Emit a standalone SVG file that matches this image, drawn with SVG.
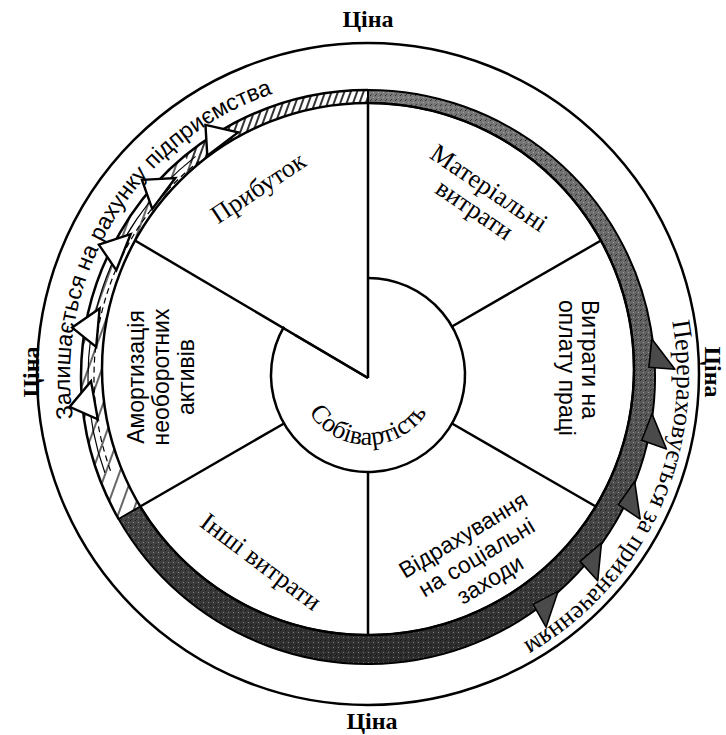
<svg xmlns="http://www.w3.org/2000/svg" width="726" height="735" viewBox="0 0 726 735">
<style>
.ln{fill:none;stroke:#000;stroke-width:2.5}
.thin{fill:none;stroke:#000;stroke-width:1.2}
.ser{font-family:"Liberation Serif","Times New Roman",serif;font-size:26px;fill:#000}
.san{font-family:"Liberation Sans",Arial,sans-serif;font-size:23px;fill:#000}
.price{font-family:"Liberation Serif","Times New Roman",serif;font-size:24px;font-weight:bold;fill:#000;text-anchor:middle}
.mid{text-anchor:middle}
.tooth{fill:#4a4a4a;stroke:#000;stroke-width:1.6;stroke-linejoin:round}
.tri{fill:#fff;stroke:#000;stroke-width:2.4;stroke-linejoin:miter}
</style>
<defs>
<linearGradient id="grayband" gradientUnits="userSpaceOnUse" x1="0" y1="90" x2="0" y2="663">
<stop offset="0" stop-color="#7a7a7a"/>
<stop offset="0.6" stop-color="#555"/>
<stop offset="1" stop-color="#2c2c2c"/>
</linearGradient>
<pattern id="stipple" patternUnits="userSpaceOnUse" width="5" height="5">
<rect x="0" y="0" width="1" height="1" fill="#000" opacity="0.6"/>
<rect x="3" y="2" width="1" height="1" fill="#fff" opacity="0.35"/>
<rect x="1" y="4" width="1" height="1" fill="#000" opacity="0.5"/>
</pattern>
<pattern id="hatchDense" patternUnits="userSpaceOnUse" width="6" height="10" patternTransform="rotate(20)">
<line x1="1" y1="0" x2="1" y2="10" stroke="#000" stroke-width="1.6"/>
</pattern>
<pattern id="hatchSparse" patternUnits="userSpaceOnUse" width="13" height="10" patternTransform="rotate(20)">
<line x1="1" y1="0" x2="1" y2="10" stroke="#000" stroke-width="1.2"/>
</pattern>
<polygon id="tooth" class="tooth" points="340,92 371,70 368,96"/>
<polygon id="tri" class="tri" points="365.3,77.1 388.9,100.8 350.4,104.1"/>
<path id="pathLeft" d="M 109.9,525 A 298 298 0 0 1 384.6,78.5"/>
<path id="pathRight" d="M 635.6,221.5 A 309 309 0 0 1 423.3,680"/>
<path id="pathCore" d="M 307.4,410 A 70 70 0 0 0 428.6,410"/>
</defs>
<rect width="726" height="735" fill="#fff"/>

<g id="price-ring">
<circle cx="368" cy="374" r="331" class="ln" stroke-width="2.8"/>
<text class="price" x="368" y="27">Ціна</text>
<text class="price" x="372" y="729">Ціна</text>
<text class="price" transform="translate(39,372) rotate(-90)">Ціна</text>
<text class="price" transform="translate(705,372) rotate(90)">Ціна</text>
</g>

<g id="band-transfer">
<path d="M 368,90 A 287 287 0 1 1 118.6,519 L 140.2,506.5 A 266 266 0 1 0 368,103 Z" fill="url(#grayband)"/>
<path d="M 368,90 A 287 287 0 1 1 118.6,519 L 140.2,506.5 A 266 266 0 1 0 368,103 Z" fill="url(#stipple)" stroke="#000" stroke-width="2"/>
<use href="#tooth" transform="rotate(88 368 377)"/>
<use href="#tooth" transform="rotate(103 368 377)"/>
<use href="#tooth" transform="rotate(117 368 377)"/>
<use href="#tooth" transform="rotate(131 368 377)"/>
<use href="#tooth" transform="rotate(144 368 377)"/>
<text class="ser" font-size="25"><textPath href="#pathRight" startOffset="50%" text-anchor="middle">Перераховується за призначенням</textPath></text>
</g>

<g id="band-retained">
<path d="M 184.4,156.3 A 287 287 0 0 1 368,90 L 368,103 A 266 266 0 0 0 194,167.7 Z" fill="url(#hatchDense)"/>
<path d="M 118.6,519 A 287 287 0 0 1 184.4,156.3 L 194,167.7 A 266 266 0 0 0 140.2,506.5 Z" fill="url(#hatchSparse)"/>
<path d="M 118.6,519 A 287 287 0 0 1 368,90" class="ln" stroke-width="2.2"/>
<path d="M 104.9,472.8 A 280 280 0 0 1 195.6,156.4" class="thin"/>
<path d="M 110.5,470.7 A 274 274 0 0 1 199.3,161.1" class="thin" stroke-dasharray="6 4"/>
<use href="#tri" transform="rotate(-32.3 368 377)"/>
<use href="#tri" transform="rotate(-48.4 368 377)"/>
<use href="#tri" transform="rotate(-63.3 368 377)"/>
<use href="#tri" transform="rotate(-80 368 377)"/>
<use href="#tri" transform="rotate(-95.2 368 377)"/>
<text class="san" font-size="21"><textPath href="#pathLeft" startOffset="50%" text-anchor="middle">Залишається на рахунку підприємства</textPath></text>
</g>

<g id="pie-edge">
<circle cx="368" cy="369" r="266" class="ln" stroke-width="2"/>
</g>

<g id="connectors">
<line x1="452" y1="326.5" x2="601" y2="240.5" class="ln"/>
<line x1="452" y1="423.5" x2="595.8" y2="506.5" class="ln"/>
<line x1="368" y1="472" x2="368" y2="635" class="ln"/>
<line x1="284" y1="423.5" x2="140.2" y2="506.5" class="ln"/>
<line x1="368" y1="103" x2="368" y2="378" class="ln"/>
<line x1="135" y1="240.5" x2="368" y2="378" class="ln"/>
<line x1="295" y1="335" x2="368" y2="378" class="ln" stroke-width="4.5"/>
</g>

<g id="node-core">
<path d="M 368,278 A 97 97 0 1 1 284,326.5" class="ln"/>
<text class="ser" font-size="24"><textPath href="#pathCore" startOffset="50%" text-anchor="middle">Собівартість</textPath></text>
</g>

<g id="node-profit">
<text class="ser mid" transform="translate(259,189) rotate(-33.5)" y="7">Прибуток</text>
</g>

<g id="node-material">
<g transform="translate(481,200) rotate(34)">
<text class="ser mid" y="-6">Матеріальні</text>
<text class="ser mid" y="20">витрати</text>
</g>
</g>

<g id="node-labour">
<g transform="translate(589,300) rotate(90)">
<text class="san" y="7">Витрати на</text>
<text class="san" y="30">оплату праці</text>
</g>
</g>

<g id="node-social">
<g transform="translate(477,558) rotate(-31)">
<text class="san mid" y="-19">Відрахування</text>
<text class="san mid" y="7">на соціальні</text>
<text class="san mid" y="33">заходи</text>
</g>
</g>

<g id="node-other">
<text class="ser mid" transform="translate(260,563) rotate(37)" y="7">Інші витрати</text>
</g>

<g id="node-amort">
<g transform="translate(137,377) rotate(-90)">
<text class="san mid" y="7">Амортизація</text>
<text class="san mid" y="32">необоротних</text>
<text class="san mid" y="57">активів</text>
</g>
</g>
</svg>
